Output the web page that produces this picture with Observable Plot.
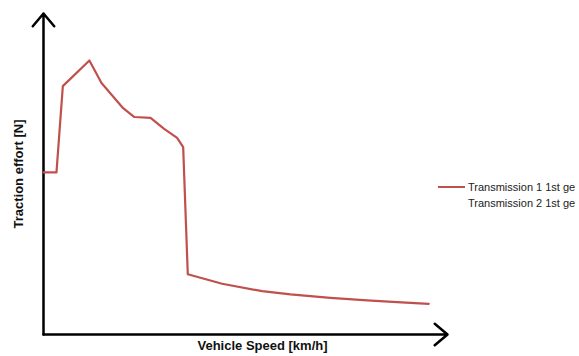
<!DOCTYPE html>
<html>
<head>
<meta charset="utf-8">
<script src="https://cdn.jsdelivr.net/npm/d3@7"></script>
<script src="https://cdn.jsdelivr.net/npm/@observablehq/plot@0.6"></script>
<style>
  html, body { margin: 0; padding: 0; background: #fff; }
  #wrap { position: relative; width: 579px; height: 356px; overflow: hidden; }
  .legend { position: absolute; left: 438px; font: 11px "Liberation Sans", Arial, sans-serif; color: #222; white-space: nowrap; }
  .legend .row { height: 16px; display: flex; align-items: center; }
  .legend .sw { width: 27px; height: 2px; margin-right: 3px; }
</style>
</head>
<body>
<div id="wrap"></div>
<script>
// Vehicle speed [km/h]
const speed = [0, 4.5, 6.7, 15.9, 20.1, 27.6, 31.5, 37.1, 41.7, 46.3, 48.4, 50, 61.9, 75.8, 85.6, 99.4, 112.2, 122.5, 133.5];
// Traction effort [N], Transmission 1 1st gear
const effort = [4040, 4040, 6190, 6830, 6270, 5640, 5420, 5400, 5130, 4900, 4670, 1500, 1265, 1080, 1000, 915, 850, 805, 765];
// legend labels as shown (truncated) in the reference
const seriesNames = ["Transmission 1 1st ge", "Transmission 2 1st ge"];
const seriesColors = ["#c0504d", "transparent"];
const xLabel = "Vehicle Speed [km/h]";
const yLabel = "Traction effort [N]";
const xMax = 140, yMax = 8000;

const data = speed.map((s, i) => ({speed: s, effort: effort[i]}));

const chart = Plot.plot({
  width: 579,
  height: 356,
  marginLeft: 43,
  marginTop: 13,
  marginRight: 132,
  marginBottom: 22,
  x: {domain: [0, xMax], axis: null},
  y: {domain: [0, yMax], axis: null},
  style: {fontFamily: "'Liberation Sans', Arial, sans-serif", background: "#fff"},
  marks: [
    Plot.arrow([{x1: 0, y1: 0, x2: xMax, y2: 0}], {x1: "x1", y1: "y1", x2: "x2", y2: "y2", stroke: "#000", strokeWidth: 2.5, headLength: 10, headAngle: 80}),
    Plot.arrow([{x1: 0, y1: 0, x2: 0, y2: yMax}], {x1: "x1", y1: "y1", x2: "x2", y2: "y2", stroke: "#000", strokeWidth: 2.5, headLength: 10, headAngle: 80}),
    Plot.line(data, {x: "speed", y: "effort", stroke: seriesColors[0], strokeWidth: 2.2, strokeLinejoin: "round"}),
    Plot.text([yLabel], {frameAnchor: "left", textAnchor: "middle", rotate: -90, dx: -25, text: d => d, fontWeight: "bold", fontSize: 13, fill: "#111"}),
    Plot.text([xLabel], {frameAnchor: "bottom", textAnchor: "middle", dx: 17, dy: 15, text: d => d, fontWeight: "bold", fontSize: 13, fill: "#111"})
  ]
});

const wrap = document.getElementById("wrap");
wrap.appendChild(chart);

const legend = document.createElement("div");
legend.className = "legend";
legend.style.top = "179px";
seriesNames.forEach((name, i) => {
  const row = document.createElement("div");
  row.className = "row";
  const sw = document.createElement("span");
  sw.className = "sw";
  sw.style.background = seriesColors[i];
  const t = document.createElement("span");
  t.textContent = name;
  row.appendChild(sw);
  row.appendChild(t);
  legend.appendChild(row);
});
wrap.appendChild(legend);
</script>
</body>
</html>
